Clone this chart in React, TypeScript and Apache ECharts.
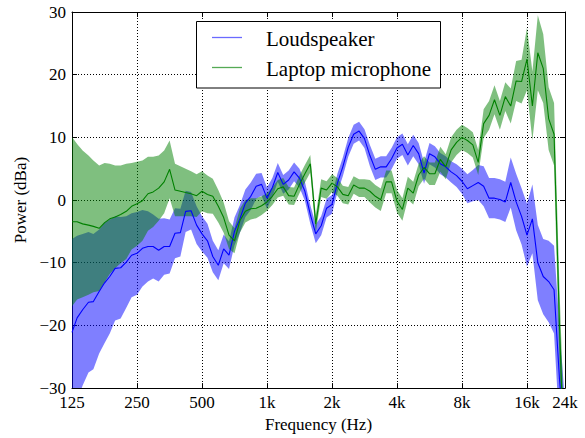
import React, { useEffect, useRef } from 'react';
import * as echarts from 'echarts';

// 1/12-octave frequency grid (Hz)
const freqs = [
  125, 132, 140, 149, 157, 167, 177, 187, 198, 210, 223, 236, 250,
  265, 281, 297, 315, 334, 354, 375, 397, 420, 445, 472, 500,
  530, 561, 595, 630, 667, 707, 749, 794, 841, 891, 944, 1000,
  1059, 1122, 1189, 1260, 1335, 1414, 1498, 1587, 1682, 1782, 1888, 2000,
  2119, 2245, 2378, 2520, 2670, 2828, 2997, 3175, 3364, 3564, 3775, 4000,
  4238, 4490, 4757, 5040, 5339, 5657, 5993, 6350, 6727, 7127, 7551, 8000,
  8476, 8980, 9514, 10079, 10679, 11314, 11986, 12699, 13454, 14254, 15102, 16000,
  16951, 17959, 19027, 20159, 21357, 22627, 23973,
];

const loudMean = [
  -21.1, -18.8, -17.5, -16.3, -16.2, -14.6, -13.2, -12.2, -10.9, -10.8,
  -9.9, -8.8, -8.5, -7.7, -7.4, -7.4, -8.0, -7.4, -7.4, -5.3,
  -5.2, -1.8, -1.7, -4.0, -5.4, -6.5, -9.0, -10.4, -7.8, -8.8,
  -5.0, -3.0, -0.5, 0.6, 2.2, 2.5, 0.3, 2.0, 4.4, 2.5,
  3.2, 4.5, 3.5, 1.4, -2.3, -5.4, -4.1, -1.3, -0.7, 2.7,
  5.3, 8.4, 10.5, 11.0, 9.8, 7.1, 4.9, 5.3, 5.3, 6.6,
  8.3, 8.9, 7.2, 8.7, 7.4, 4.3, 7.4, 6.9, 5.8, 5.3,
  4.5, 3.9, 3.0, 1.8, 2.3, 2.8, 2.2, 0.3, 0.3, 0.1,
  -0.3, 2.8, -0.3, -2.6, -5.6, -3.0, -10.0, -12.2, -13.0, -14.3,
  -28.5, -40.0,
];

const loudSd = [
  14.9, 13.1, 12.1, 11.2, 10.8, 9.9, 9.6, 9.1, 8.3, 8.1,
  7.3, 6.7, 6.6, 6.1, 5.6, 5.1, 5.0, 4.5, 4.3, 4.0,
  3.8, 3.3, 3.0, 3.0, 2.8, 2.7, 2.5, 2.4, 2.3, 2.2,
  2.2, 2.2, 2.2, 2.2, 2.0, 1.8, 1.7, 1.5, 1.5, 1.5,
  1.5, 1.5, 1.5, 1.5, 1.5, 1.5, 1.5, 1.5, 1.5, 1.5,
  1.5, 1.5, 1.5, 1.5, 1.5, 1.7, 1.7, 1.7, 1.7, 1.7,
  1.7, 1.7, 1.7, 1.7, 1.7, 1.7, 1.7, 1.7, 1.7, 1.7,
  1.7, 1.8, 2.0, 2.3, 2.5, 2.8, 3.2, 3.2, 3.2, 3.2,
  3.2, 4.0, 4.5, 4.5, 5.0, 5.5, 6.0, 6.0, 6.5, 7.0,
  8.0, 8.0,
];

const micMean = [
  -3.45, -3.45, -3.8, -4.0, -4.2, -4.5, -3.6, -3.0, -2.7, -2.3,
  -1.8, -1.0, -0.6, -0.1, 1.0, 1.3, 1.9, 2.9, 4.9, 1.6,
  1.4, 1.2, 1.0, 0.7, 1.4, 0.9, 0.6, -1.0, -2.8, -5.6,
  -6.5, -3.3, -1.8, -1.4, -1.3, -0.9, -0.3, 0.6, 1.8, 2.1,
  0.7, 0.6, 2.5, 4.2, 5.8, -3.8, 1.9, 1.6, 2.7, 2.1,
  0.9, 0.7, 2.4, 1.9, 1.9, 1.4, 0.6, 0.05, 2.9, 2.9,
  -0.2, -1.5, 1.9, 1.1, 4.0, 5.2, 4.2, 4.2, 6.5, 5.3,
  8.0, 9.2, 10.0, 9.5, 8.8, 6.0, 12.2, 13.5, 16.0, 13.5,
  16.5, 15.0, 19.0, 18.9, 22.5, 15.0, 23.5, 21.0, 13.0, 10.5,
  -20.0, -45.0,
];

const micSd = [
  13.5, 12.4, 11.7, 11.1, 10.5, 10.0, 9.5, 8.8, 8.2, 7.8,
  7.6, 6.9, 6.7, 6.4, 5.9, 5.6, 5.2, 5.0, 4.6, 4.2,
  4.0, 3.8, 3.6, 3.4, 3.2, 3.0, 2.8, 2.6, 2.4, 2.2,
  2.0, 1.9, 1.8, 1.7, 1.6, 1.5, 1.4, 1.4, 1.4, 1.4,
  1.4, 1.4, 1.4, 1.4, 1.4, 1.4, 1.4, 1.4, 1.4, 1.4,
  1.4, 1.4, 1.4, 1.4, 1.4, 1.8, 1.8, 1.8, 1.8, 1.8,
  1.8, 1.8, 1.8, 1.8, 1.8, 1.8, 1.8, 1.8, 2.0, 2.0,
  2.0, 2.0, 2.0, 2.0, 2.0, 2.0, 2.3, 2.3, 2.3, 2.3,
  2.3, 2.8, 3.2, 3.5, 5.0, 5.5, 6.0, 5.5, 5.0, 5.0,
  6.0, 6.0,
];

const xTickFreqs = [125, 250, 500, 1000, 2000, 4000, 8000, 16000, 24000];
const xTickLabels = ['125', '250', '500', '1k', '2k', '4k', '8k', '16k', '24k'];
const yMin = -30;
const yMax = 30;
const yStep = 10;

const seriesNames = ['Loudspeaker', 'Laptop microphone'];

const F0 = xTickFreqs[0];
const toX = (f: number) => Math.log2(f / F0);
const X_MAX = toX(xTickFreqs[xTickFreqs.length - 1]);

const FONT = "'Liberation Serif', 'Times New Roman', serif";

function bandSeries(name: string, mean: number[], sd: number[], fill: string) {
  return {
    type: 'custom',
    name,
    clip: true,
    silent: true,
    data: freqs.map((f, i) => [toX(f), mean[i] - sd[i], mean[i] + sd[i]]),
    encode: { x: 0, y: [1, 2] },
    renderItem: (params: any, api: any) => {
      if (params.dataIndex !== 0) return null;
      const upper = freqs.map((f, i) => api.coord([toX(f), mean[i] + sd[i]]));
      const lower = freqs.map((f, i) => api.coord([toX(f), mean[i] - sd[i]])).reverse();
      return {
        type: 'polygon',
        shape: { points: upper.concat(lower) },
        style: { fill },
      };
    },
  };
}

function lineSeries(name: string, mean: number[], color: string) {
  return {
    type: 'line',
    name,
    data: freqs.map((f, i) => [toX(f), mean[i]]),
    showSymbol: false,
    symbol: 'none',
    clip: true,
    silent: true,
    lineStyle: { color, width: 1.1 },
  };
}

export default function App() {
  const ref = useRef<HTMLDivElement>(null);
  useEffect(() => {
    if (!ref.current) return;
    const chart = echarts.init(ref.current, undefined, { renderer: 'svg' });
    const labelStyle = { fontFamily: FONT, fontSize: 17, color: '#000' };
    const xFormatter = (v: number) => {
      const i = xTickFreqs.findIndex((f) => Math.abs(toX(f) - v) < 1e-6);
      return i >= 0 ? xTickLabels[i] : '';
    };
    const yFormatter = (v: number) => (v < 0 ? '\u2212' + Math.abs(v) : String(v));
    const dotted = { color: '#000', width: 1, type: [1, 2] as any };
    chart.setOption({
      animation: false,
      backgroundColor: '#fff',
      textStyle: { fontFamily: FONT },
      grid: { left: 72, right: 20, top: 12, bottom: 45, show: false },
      xAxis: [
        {
          type: 'value',
          min: 0,
          max: X_MAX,
          interval: 1,
          position: 'bottom',
          name: 'Frequency (Hz)',
          nameLocation: 'middle',
          nameGap: 23,
          nameTextStyle: { ...labelStyle },
          axisLine: { show: true, onZero: false, lineStyle: { color: '#000', width: 1 } },
          axisTick: { show: true, inside: true, length: 5, lineStyle: { color: '#000' } },
          axisLabel: { ...labelStyle, margin: 6, showMaxLabel: true, showMinLabel: true, formatter: xFormatter },
          splitLine: { show: true, lineStyle: dotted },
        },
        {
          type: 'value',
          min: 0,
          max: X_MAX,
          interval: 1,
          position: 'top',
          axisLine: { show: true, onZero: false, lineStyle: { color: '#000', width: 1 } },
          axisTick: { show: true, inside: true, length: 5, lineStyle: { color: '#000' } },
          axisLabel: { show: false },
          splitLine: { show: false },
        },
      ],
      yAxis: [
        {
          type: 'value',
          min: yMin,
          max: yMax,
          interval: yStep,
          position: 'left',
          name: 'Power (dBa)',
          nameLocation: 'middle',
          nameGap: 43,
          nameRotate: 90,
          nameTextStyle: { ...labelStyle },
          axisLine: { show: true, onZero: false, lineStyle: { color: '#000', width: 1 } },
          axisTick: { show: true, inside: true, length: 5, lineStyle: { color: '#000' } },
          axisLabel: { ...labelStyle, margin: 6, formatter: yFormatter },
          splitLine: { show: true, lineStyle: dotted },
        },
        {
          type: 'value',
          min: yMin,
          max: yMax,
          interval: yStep,
          position: 'right',
          axisLine: { show: true, onZero: false, lineStyle: { color: '#000', width: 1 } },
          axisTick: { show: true, inside: true, length: 5, lineStyle: { color: '#000' } },
          axisLabel: { show: false },
          splitLine: { show: false },
        },
      ],
      series: [
        bandSeries(seriesNames[0] + ' band', loudMean, loudSd, 'rgba(0,0,255,0.5)'),
        bandSeries(seriesNames[1] + ' band', micMean, micSd, 'rgba(0,128,0,0.5)'),
        lineSeries(seriesNames[0], loudMean, '#0000ff'),
        lineSeries(seriesNames[1], micMean, '#008000'),
      ],
      graphic: [
        {
          type: 'rect',
          z: 100,
          shape: { x: 196.5, y: 21.5, width: 244, height: 66.5 },
          style: { fill: '#fff', stroke: '#000', lineWidth: 1 },
        },
        {
          type: 'line',
          z: 101,
          shape: { x1: 212, y1: 37.5, x2: 242, y2: 37.5 },
          style: { stroke: '#6a6aff', lineWidth: 1.3 },
        },
        {
          type: 'line',
          z: 101,
          shape: { x1: 212, y1: 67.5, x2: 242, y2: 67.5 },
          style: { stroke: '#55aa55', lineWidth: 1.3 },
        },
        {
          type: 'text',
          z: 101,
          x: 266,
          y: 38.5,
          style: { text: seriesNames[0], fontFamily: FONT, fontSize: 21, fill: '#000', verticalAlign: 'middle', align: 'left' },
        },
        {
          type: 'text',
          z: 101,
          x: 266,
          y: 69,
          style: { text: seriesNames[1], fontFamily: FONT, fontSize: 21, fill: '#000', verticalAlign: 'middle', align: 'left' },
        },
      ],
    });
    return () => chart.dispose();
  }, []);
  return (
    <div
      ref={ref}
      style={{ position: 'absolute', left: 0, top: 0, width: 585, height: 438, background: '#fff' }}
    />
  );
}
